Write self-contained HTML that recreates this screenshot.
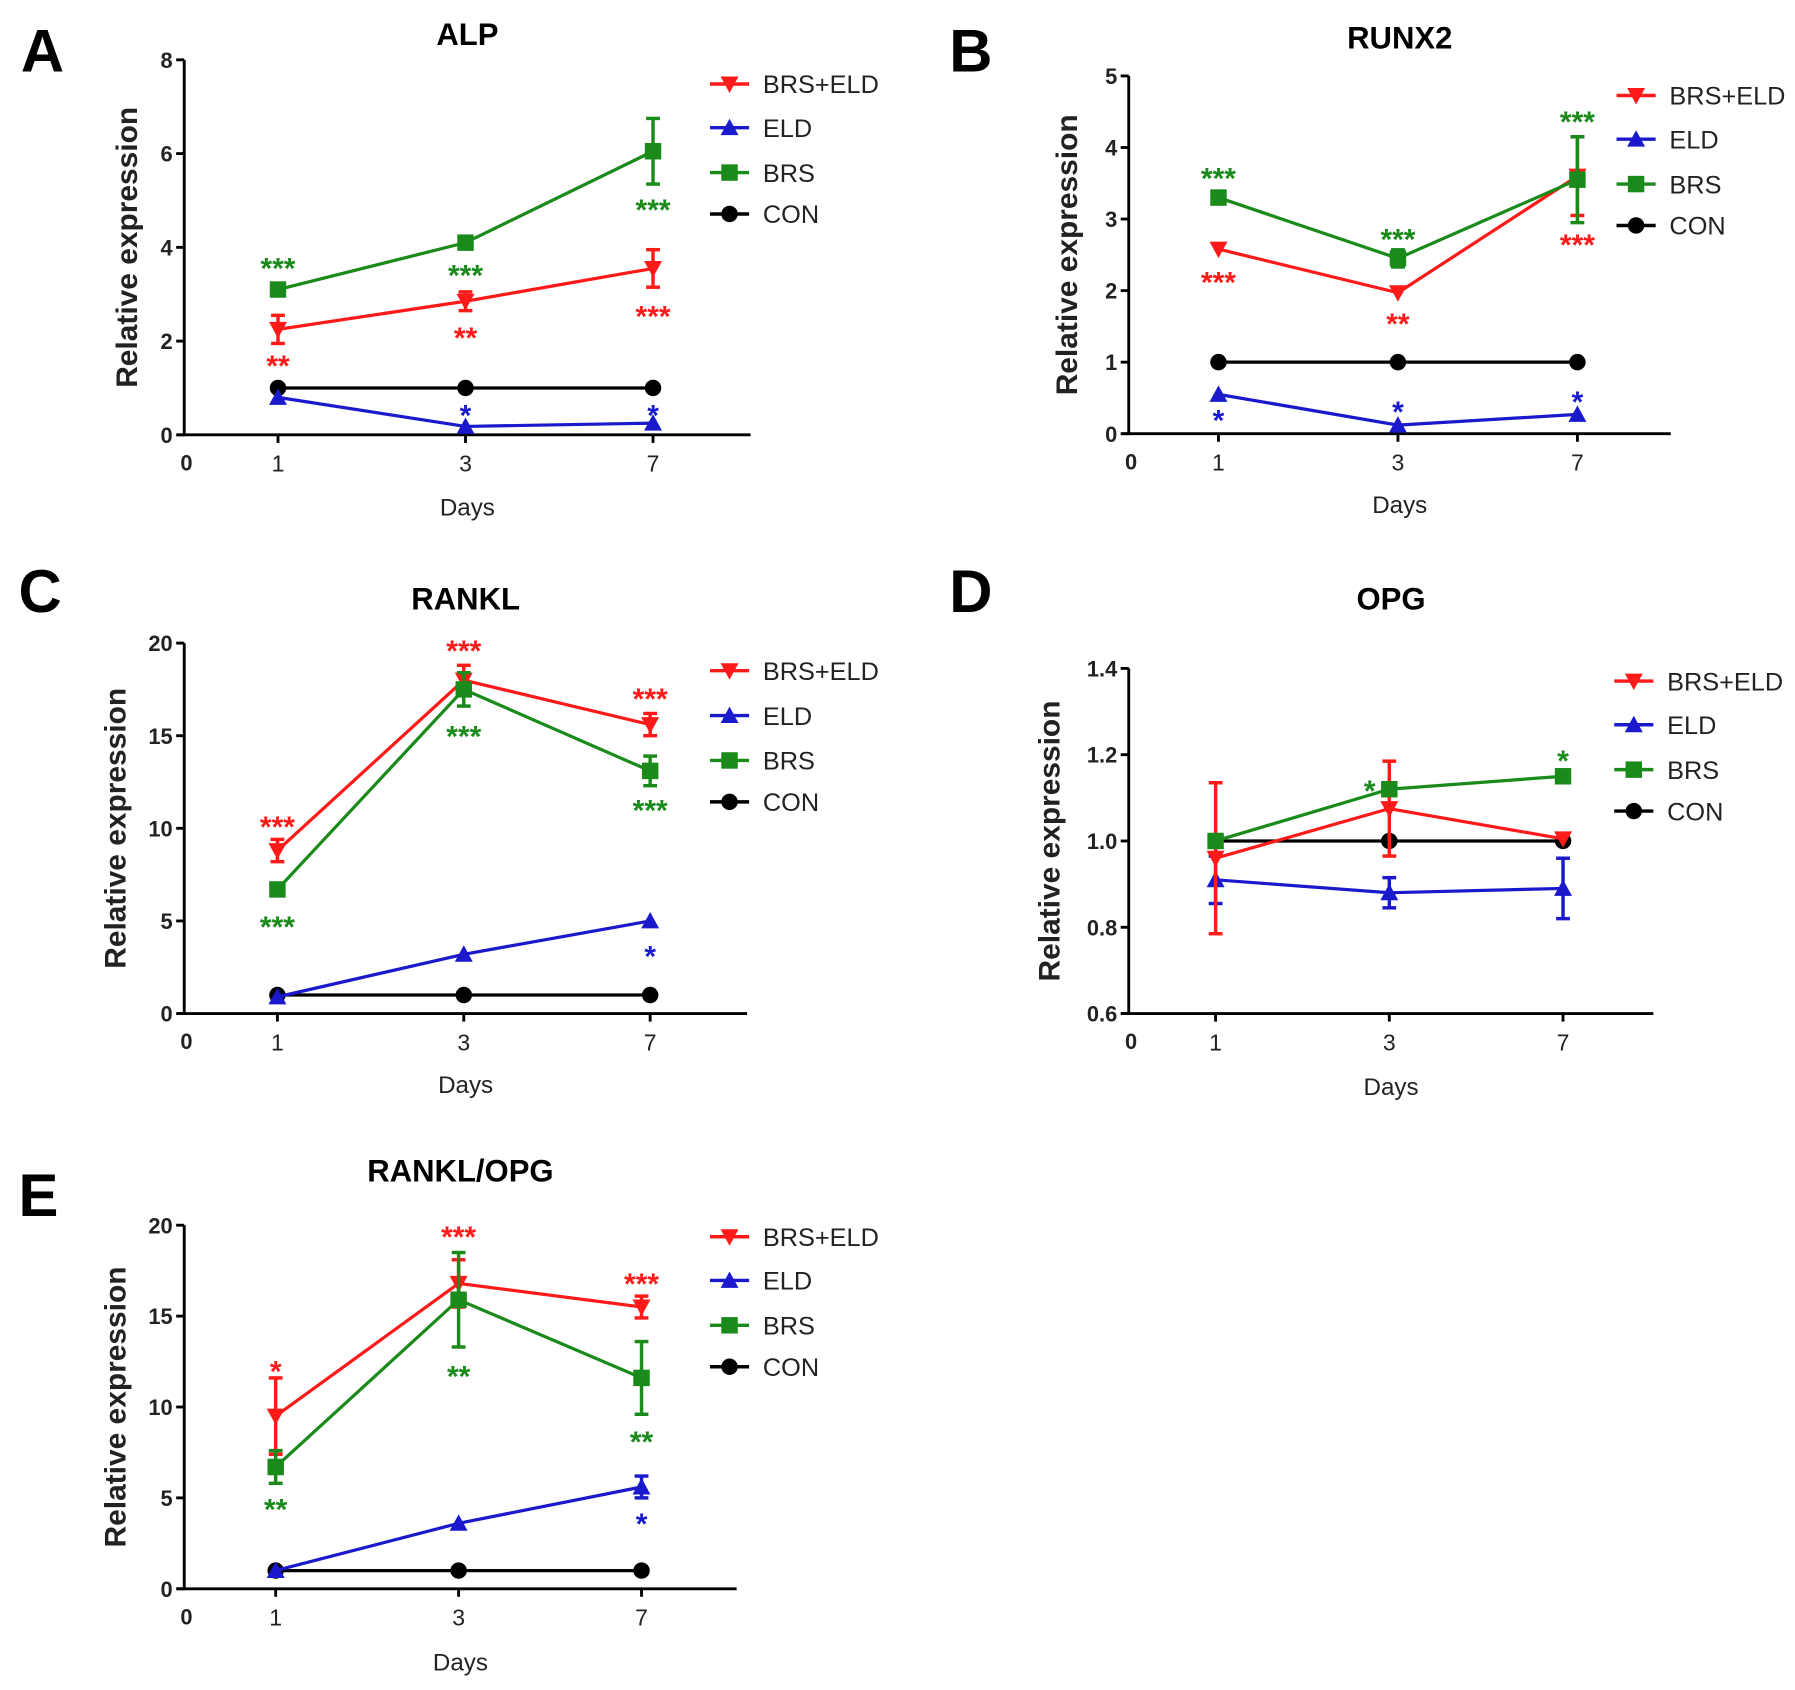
<!DOCTYPE html>
<html><head><meta charset="utf-8">
<style>
html,body{margin:0;padding:0;background:#fff;}
svg{display:block;font-family:"Liberation Sans",Arial,sans-serif;}
</style></head>
<body>
<svg id="fig" width="1795" height="1690" viewBox="0 0 1560 1469" xmlns="http://www.w3.org/2000/svg"></svg>
<script>
// ---- Data ----
const days = ["1","3","7"];
const seriesNames = ["BRS+ELD","ELD","BRS","CON"];
const seriesColors = ["#ff1a1a","#1a1acc","#1a8a1a","#000000"];
const seriesMarkers = ["tdown","tup","square","circle"];

const alpMean = [[2.25,2.85,3.55],[0.8,0.18,0.25],[3.1,4.1,6.05],[1,1,1]];
const alpErr  = [[0.3,0.2,0.4],[0.05,0.05,0.05],[0.1,0.05,0.7],[0,0,0]];
const alpYTicks = ["0","2","4","6","8"];
const alpStars = [["**","**","***"],["","*","*"],["***","***","***"],["","",""]];
const alpStarY = [[1.6,2.2,2.65],[0,0.54,0.54],[3.68,3.53,4.93],[0,0,0]];

const runxMean = [[2.58,1.97,3.6],[0.55,0.12,0.27],[3.3,2.45,3.55],[1,1,1]];
const runxErr  = [[0.08,0.05,0.55],[0.03,0.03,0.03],[0.1,0.12,0.6],[0,0,0]];
const runxYTicks = ["0","1","2","3","4","5"];
const runxStars = [["***","**","***"],["*","*","*"],["***","***","***"],["","",""]];
const runxStarY = [[2.2,1.62,2.72],[0.27,0.39,0.53],[3.65,2.8,4.44],[0,0,0]];

const ranklMean = [[8.8,18.0,15.6],[0.9,3.2,5.0],[6.7,17.5,13.1],[1,1,1]];
const ranklErr  = [[0.6,0.8,0.6],[0.1,0.2,0.3],[0.4,0.9,0.8],[0,0,0]];
const ranklYTicks = ["0","5","10","15","20"];
const ranklStars = [["***","***","***"],["","","*"],["***","***","***"],["","",""]];
const ranklStarY = [[10.4,19.9,17.3],[0,0,3.4],[5.0,15.3,11.3],[0,0,0]];

const opgMean = [[0.96,1.075,1.005],[0.91,0.88,0.89],[1.0,1.12,1.15],[1,1,1]];
const opgErr  = [[0.175,0.11,0.005],[0.055,0.035,0.07],[0.005,0.005,0.005],[0,0,0]];
const opgYTicks = ["0.6","0.8","1.0","1.2","1.4"];
const opgStars = [["","",""],["","",""],["","*","*"],["","",""]];
const opgStarY = [[0,0,0],[0,0,0],[0,1.13,1.2],[0,0,0]];

const ratioMean = [[9.5,16.8,15.5],[1.0,3.6,5.6],[6.7,15.9,11.6],[1,1,1]];
const ratioErr  = [[2.1,1.3,0.6],[0.1,0.4,0.6],[0.9,2.6,2.0],[0,0,0]];
const ratioYTicks = ["0","5","10","15","20"];
const ratioStars = [["*","***","***"],["","","*"],["**","**","**"],["","",""]];
const ratioStarY = [[12.3,19.7,17.1],[0,0,3.9],[4.7,12.0,8.4],[0,0,0]];

// ---- Layout ----
const panels = [
 {id:"alp",letter:"A",title:"ALP",mean:alpMean,err:alpErr,ticks:alpYTicks,stars:alpStars,starY:alpStarY,
  ax:160,y0:378,y1:52,ymin:0,ymax:8,sp:163,lx:617,ly:73,lgap:[0,38,77,113],lt:[18,45],ty:30,dy:440,ytx:110},
 {id:"runx2",letter:"B",title:"RUNX2",mean:runxMean,err:runxErr,ticks:runxYTicks,stars:runxStars,starY:runxStarY,
  ax:981,y0:377,y1:66,ymin:0,ymax:5,sp:156,lx:1405,ly:83,lgap:[0,38,77,113],lt:[825,45],ty:33,dy:438,ytx:927},
 {id:"rankl",letter:"C",title:"RANKL",mean:ranklMean,err:ranklErr,ticks:ranklYTicks,stars:ranklStars,starY:ranklStarY,
  ax:160,y0:881,y1:559,ymin:0,ymax:20,sp:162,lx:617,ly:583,lgap:[0,39,78,114],lt:[16,515],ty:521,dy:942,ytx:100},
 {id:"opg",letter:"D",title:"OPG",mean:opgMean,err:opgErr,ticks:opgYTicks,stars:opgStars,starY:opgStarY,
  ax:981,y0:881,y1:581,ymin:0.6,ymax:1.4,sp:151,lx:1403,ly:592,lgap:[0,38,77,113],lt:[825,515],ty:521,dy:944,ytx:912},
 {id:"rankl-opg",letter:"E",title:"RANKL/OPG",mean:ratioMean,err:ratioErr,ticks:ratioYTicks,stars:ratioStars,starY:ratioStarY,
  ax:160,y0:1381,y1:1065,ymin:0,ymax:20,sp:159,lx:617,ly:1075,lgap:[0,38,77,113],lt:[16,1040],ty:1018,dy:1444,ytx:100}
];

const NS="http://www.w3.org/2000/svg";
const svg=document.getElementById('fig');
function mk(tag,attrs,parent,text){
  const e=document.createElementNS(NS,tag);
  for(const k in attrs) e.setAttribute(k,attrs[k]);
  if(text!==undefined) e.textContent=text;
  (parent||svg).appendChild(e);
  return e;
}
function marker(g,type,x,y,c,s){
  let m;
  if(type==="circle") m=mk('circle',{cx:x,cy:y,r:s*0.55,fill:c},g);
  else if(type==="square") m=mk('rect',{x:x-s*0.55,y:y-s*0.55,width:s*1.1,height:s*1.1,fill:c},g);
  else if(type==="tup") m=mk('polygon',{points:`${x-s*0.6},${y+s*0.5} ${x+s*0.6},${y+s*0.5} ${x},${y-s*0.6}`,fill:c},g);
  else m=mk('polygon',{points:`${x-s*0.6},${y-s*0.5} ${x+s*0.6},${y-s*0.5} ${x},${y+s*0.6}`,fill:c},g);
  return m;
}

panels.forEach(p=>{
  const g=mk('g',{});
  
  
  const yS=v=>p.y0-(v-p.ymin)/(p.ymax-p.ymin)*(p.y0-p.y1);
  const xS=i=>p.ax+(i+0.5)*p.sp;
  const xEnd=p.ax+3.02*p.sp;

  const L=mk('text',{x:p.lt[0],y:p.lt[1]+17,'font-size':52,'font-weight':'bold'},g,p.letter);
  
  
  const T=mk('text',{x:(p.ax+xEnd)/2,y:p.ty+9,'font-size':27,'font-weight':'bold','text-anchor':'middle'},g,p.title);
  
  

  // axes
  const ya=mk('line',{x1:p.ax,y1:p.y1,x2:p.ax,y2:p.y0,stroke:'#000','stroke-width':2.5},g);
  
  
  const xa=mk('line',{x1:p.ax-6,y1:p.y0,x2:xEnd,y2:p.y0,stroke:'#000','stroke-width':2.5},g);
  
  
  p.ticks.forEach(t=>{
    const y=yS(parseFloat(t));
    mk('line',{x1:p.ax-7,y1:y,x2:p.ax,y2:y,stroke:'#000','stroke-width':2.5},g);
    const tl=mk('text',{x:p.ax-10,y:y+7,'font-size':19,'font-weight':'bold','text-anchor':'end',fill:'#222'},g,t);
    
    
  });
  const z=mk('text',{x:p.ax+2,y:p.y0+31,'font-size':19,'font-weight':'bold','text-anchor':'middle',fill:'#222'},g,"0");
  
  
  days.forEach((d,i)=>{
    mk('line',{x1:xS(i),y1:p.y0,x2:xS(i),y2:p.y0+7,stroke:'#000','stroke-width':2.5},g);
    const tl=mk('text',{x:xS(i),y:p.y0+32,'font-size':20,'text-anchor':'middle',fill:'#222'},g,d);
    
    
  });
  const dx=mk('text',{x:(p.ax+xEnd)/2,y:p.dy+8,'font-size':21,'text-anchor':'middle',fill:'#222'},g,"Days");
  
  
  const ymid=(p.y0+p.y1)/2;
  const yt=mk('text',{x:p.ytx+9,y:ymid,'font-size':26,'font-weight':'bold','text-anchor':'middle',transform:`rotate(-90 ${p.ytx+9} ${ymid})`,fill:'#222'},g,"Relative expression");
  
  

  // series (draw CON first so colored lines overlay)
  [3,1,0,2].forEach(s=>{
    const c=seriesColors[s];
    const sg=mk('g',{},g);
    
    
    const pts=p.mean[s].map((v,i)=>`${xS(i)},${yS(v)}`).join(' ');
    mk('polyline',{points:pts,fill:'none',stroke:c,'stroke-width':2.8},sg);
    p.mean[s].forEach((v,i)=>{
      const e=p.err[s][i];
      if(e>0.02*(p.ymax-p.ymin)){
        const x=xS(i),a=yS(v+e),b=yS(v-e);
        mk('line',{x1:x,y1:a,x2:x,y2:b,stroke:c,'stroke-width':3},sg);
        mk('line',{x1:x-6,y1:a,x2:x+6,y2:a,stroke:c,'stroke-width':3},sg);
        mk('line',{x1:x-6,y1:b,x2:x+6,y2:b,stroke:c,'stroke-width':3},sg);
      }
      const m=marker(sg,seriesMarkers[s],xS(i),yS(v),c,13);
      
      
      const st=p.stars[s][i];
      if(st){
        const sx=xS(i)+((p.id==="opg"&&i===1)?-17:0);
        const t=mk('text',{x:sx,y:yS(p.starY[s][i])+14,'font-size':26,'font-weight':'bold','text-anchor':'middle',fill:c},sg,st);
        
        
      }
    });
  });

  // legend
  seriesNames.forEach((n,s)=>{
    const y=p.ly+p.lgap[s];
    const lg=mk('g',{},g);
    
    
    mk('line',{x1:p.lx,y1:y,x2:p.lx+34,y2:y,stroke:seriesColors[s],'stroke-width':3},lg);
    marker(lg,seriesMarkers[s],p.lx+17,y,seriesColors[s],13);
    mk('text',{x:p.lx+46,y:y+8,'font-size':22,fill:'#222'},lg,n);
  });
});
</script>
</body></html>
